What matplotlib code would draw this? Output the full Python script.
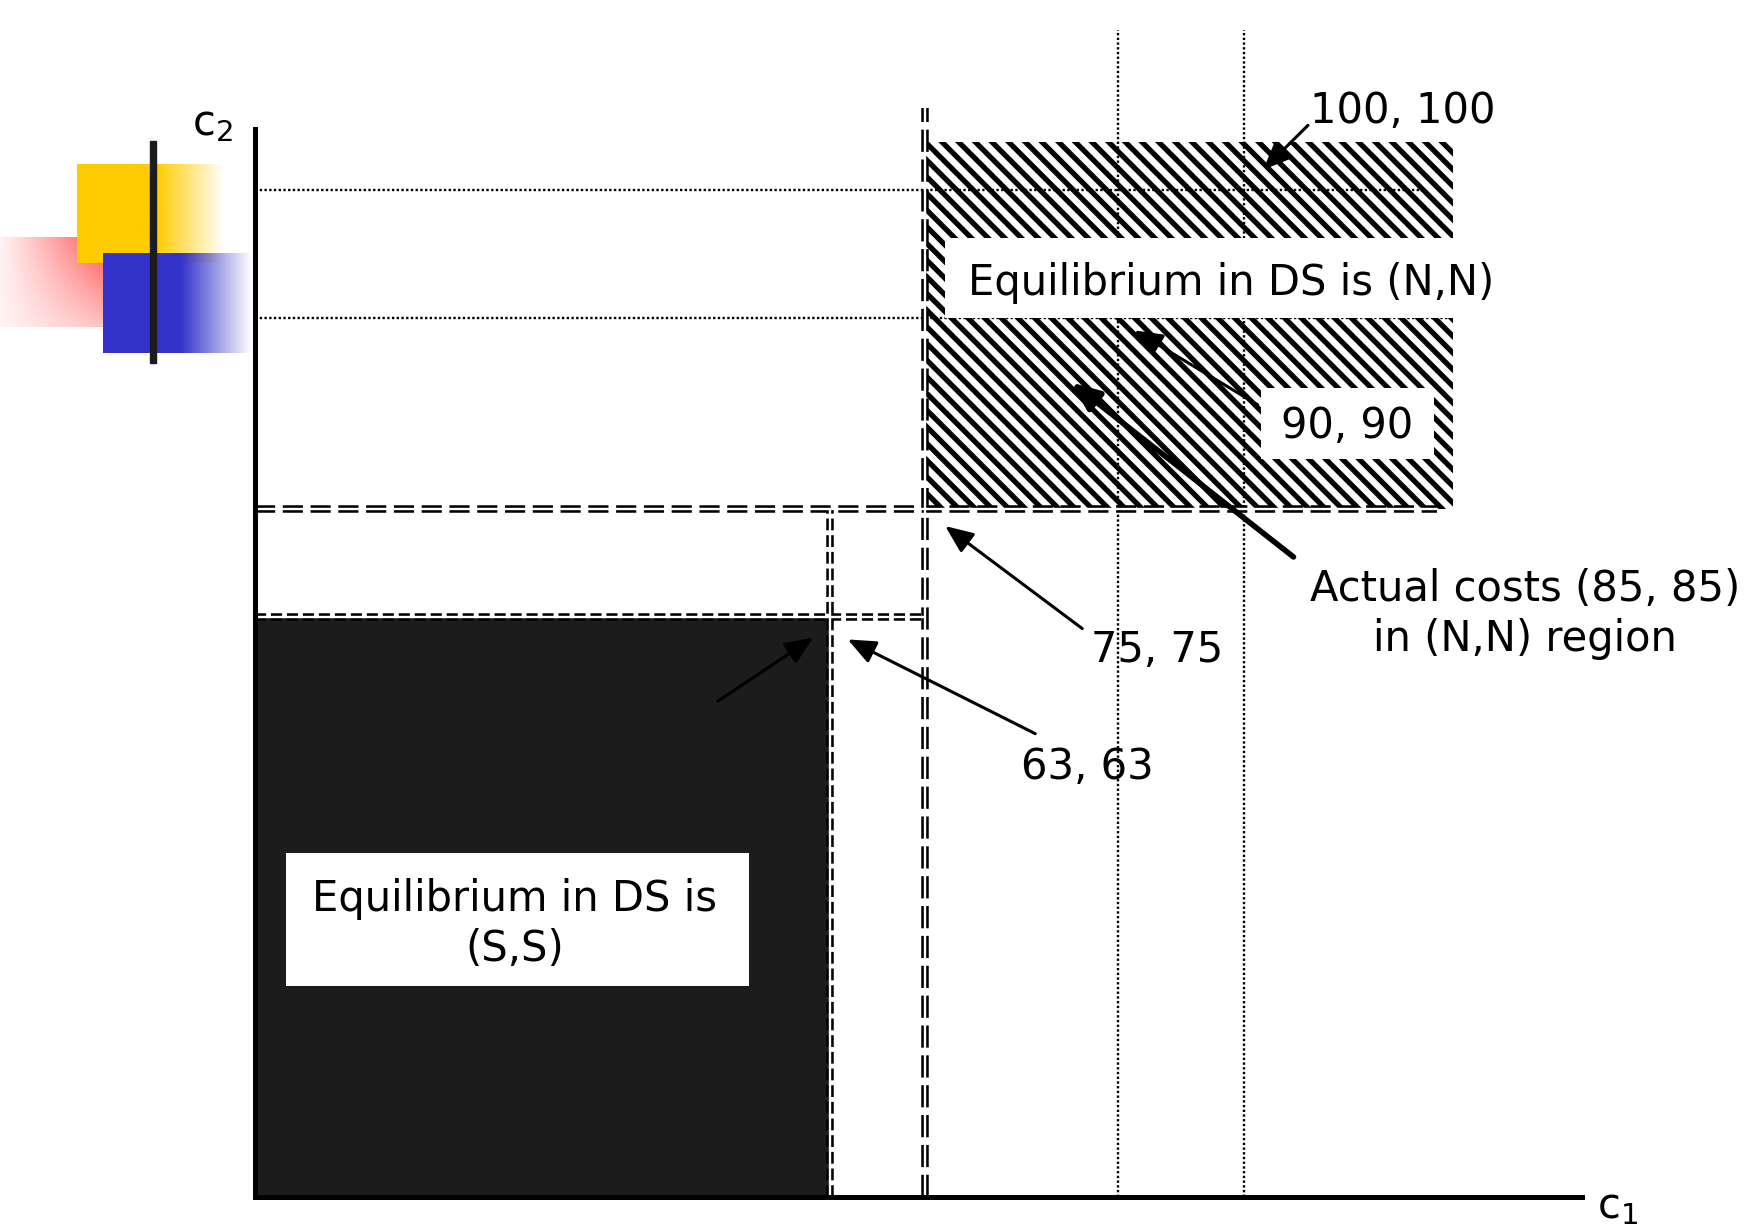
import numpy as np
import matplotlib
matplotlib.use("Agg")
import matplotlib.pyplot as plt
from matplotlib.patches import Rectangle

# cost thresholds (c1 and c2 are symmetric)
c1_marks = [63, 75, 90, 100]
c2_marks = [63, 75, 90, 100]
actual_cost = (85, 85)
mark_labels = ["63, 63", "75, 75", "90, 90", "100, 100"]
ss_label = "Equilibrium in DS is\n(S,S)"
nn_label = "Equilibrium in DS is (N,N)"
actual_label = "Actual costs (85, 85)\nin (N,N) region"

# the slide is not drawn to scale, so cost -> drawing units via knots
x_knots = [0, 63, 75, 90, 100, 140]
x_draw = [0, 514, 599, 772, 885, 1337]
y_knots = [0, 63, 75, 90, 100, 140]
y_draw = [0, 518, 615, 786, 900, 1356]

plt.rcParams['font.family'] = ['DejaVu Sans']
plt.rcParams['hatch.linewidth'] = 3.8
plt.rcParams['hatch.color'] = 'black'
plt.rcParams['lines.scale_dashes'] = False

W, H = 1568.0, 1098.0  # units used for layout (scaled to figure)


def fp(px, py):
    return (px / W, 1 - py / H)


fig = plt.figure(figsize=(17.53, 12.28), dpi=100)
fig.patch.set_facecolor('white')

# ---- decoration at top left
deco = fig.add_axes([0, 0, 1, 1])
deco.set_xlim(0, 1753)
deco.set_ylim(1228, 0)
deco.axis('off')


def grad_block(x0, x1, y0, y1, rgb, solid_to, z):
    n = 200
    u = np.linspace(x0, x1, n)
    a = np.clip((x1 - u) / (x1 - solid_to), 0, 1)
    a = np.tile(a, (20, 1))
    img = np.ones((20, n, 4))
    img[..., :3] = np.array(rgb)
    img[..., 3] = a
    deco.imshow(img, extent=(x0, x1, y1, y0), aspect='auto', zorder=z,
                interpolation='bilinear')


# red glow behind
n = 120
u, v = np.meshgrid(np.linspace(0, 1, n), np.linspace(0, 1, n))
red = np.ones((n, n, 4))
red[..., 0] = 1.0
red[..., 1] = 0.38
red[..., 2] = 0.38
red[..., 3] = np.clip(1.0 * u ** 1.1 * (1 - 0.7 * v) + 0.08, 0, 1)
deco.imshow(red, extent=(0, 103, 327, 237), aspect='auto', zorder=1,
            interpolation='bilinear')
grad_block(77, 225, 164, 263, (1.0, 0.8, 0.0), 157, 2)
grad_block(103, 252, 253, 353, (0.2, 0.2, 0.8), 181, 3)
deco.add_patch(Rectangle((150, 141), 6, 222, color='#1c1c1c', zorder=4))

# ---- main diagram
ax = fig.add_axes([228 / W, 1 - 1070 / H, (1415 - 228) / W, (1070 - 115) / H])
ax.patch.set_alpha(0)


def fx(v):
    return np.interp(v, x_knots, x_draw)


def ix(v):
    return np.interp(v, x_draw, x_knots)


def fy(v):
    return np.interp(v, y_knots, y_draw)


def iy(v):
    return np.interp(v, y_draw, y_knots)


ax.set_xscale('function', functions=(fx, ix))
ax.set_yscale('function', functions=(fy, iy))
xmax = float(ix(1187))
ymax = float(iy(955))
ax.set_xlim(0, xmax)
ax.set_ylim(0, ymax)
for s in ['top', 'right']:
    ax.spines[s].set_visible(False)
for s in ['left', 'bottom']:
    ax.spines[s].set_linewidth(3.6)
    ax.spines[s].set_zorder(10)
ax.set_xticks([])
ax.set_yticks([])

top_hatch_x = float(ix(1072))
top_hatch_y = float(iy(943))

# (S,S) region
ax.add_patch(Rectangle((0, 0), c1_marks[0], c2_marks[0], facecolor='#1c1c1c',
                       edgecolor='none', zorder=1))
# (N,N) region
ax.add_patch(Rectangle((c1_marks[1], c2_marks[1]), top_hatch_x - c1_marks[1],
                       top_hatch_y - c2_marks[1], facecolor='white',
                       edgecolor='black', linewidth=0, hatch='\\\\', zorder=1))

dot = dict(color='black', lw=1.7, ls=(0, (1.7, 1.7)), zorder=2, clip_on=False)
ax.plot([0, float(ix(1042))], [c2_marks[3]] * 2, **dot)
ax.plot([0, top_hatch_x], [c2_marks[2]] * 2, **dot)
for c in c1_marks[2:]:
    ax.plot([c, c], [0, float(iy(1043))], **dot)


def double_dash(xs, ys, on, off):
    ls = (0, (on, off))
    ax.plot(xs, ys, color='black', lw=5.4, ls=ls, zorder=3, clip_on=False,
            solid_capstyle='butt', dash_capstyle='butt')
    ax.plot(xs, ys, color='white', lw=1.7, ls='-',
            zorder=3.1, clip_on=False, solid_capstyle='butt')


double_dash([0, float(ix(1057))], [c2_marks[1]] * 2, 14.5, 5.5)
double_dash([c1_marks[1]] * 2, [0, float(iy(973))], 16, 5.5)
double_dash([0, c1_marks[1]], [c2_marks[0]] * 2, 8, 3.5)
double_dash([c1_marks[0]] * 2, [0, c2_marks[1]], 8.5, 3.5)

# white label boxes (layout units)
for (x0, y0, x1, y1) in [(845, 213, 1300, 284), (1128, 347, 1283, 410),
                         (256, 763, 670, 882)]:
    fig.patches.append(Rectangle(fp(x0, y1), (x1 - x0) / W, (y1 - y0) / H,
                                 transform=fig.transFigure, facecolor='white',
                                 edgecolor='none', zorder=4))

fs = 30
thin = dict(arrowstyle='-|>,head_length=0.85,head_width=0.36', lw=2.2,
            color='black', shrinkA=0, shrinkB=0, mutation_scale=20)
thick = dict(thin, lw=4.0)

ax.annotate('', xy=(101.5, 101.6), xytext=fp(1170, 112),
            textcoords='figure fraction', arrowprops=thin, zorder=5,
            annotation_clip=False)
ax.annotate('', xy=(91.3, 89.0), xytext=fp(1125, 362),
            textcoords='figure fraction', arrowprops=thin, zorder=5)
ax.annotate('', xy=(86.4, 84.9), xytext=fp(1157, 498),
            textcoords='figure fraction', arrowprops=thick, zorder=5)
ax.annotate('', xy=(76.6, 73.1), xytext=fp(968, 562),
            textcoords='figure fraction', arrowprops=thin, zorder=5)
ax.annotate('', xy=(65.3, 60.6), xytext=fp(926, 656),
            textcoords='figure fraction', arrowprops=thin, zorder=5)
ax.annotate('', xy=(61.2, 60.8), xytext=fp(642, 627),
            textcoords='figure fraction', arrowprops=thin, zorder=5)

txt = dict(fontsize=fs, color='black', zorder=6)
fig.text(*fp(1172, 99), mark_labels[3], ha='left', va='center', **txt)
fig.text(*fp(1101, 253), nn_label, ha='center', va='center', **txt)
fig.text(*fp(1205, 381), mark_labels[2], ha='center', va='center', **txt)
fig.text(*fp(1364, 549), actual_label, ha='center', va='center',
         multialignment='center', linespacing=1.25, **txt)
fig.text(*fp(1035, 581), mark_labels[1], ha='center', va='center', **txt)
fig.text(*fp(973, 686), mark_labels[0], ha='center', va='center', **txt)
fig.text(*fp(460, 826), ss_label, ha='center', va='center',
         multialignment='center', linespacing=1.25, **txt)
fig.text(*fp(190, 110), 'c$_2$', ha='center', va='center', **txt)
fig.text(*fp(1447, 1078), 'c$_1$', ha='center', va='center', **txt)

fig.savefig('out.png', dpi=100, facecolor='white')
